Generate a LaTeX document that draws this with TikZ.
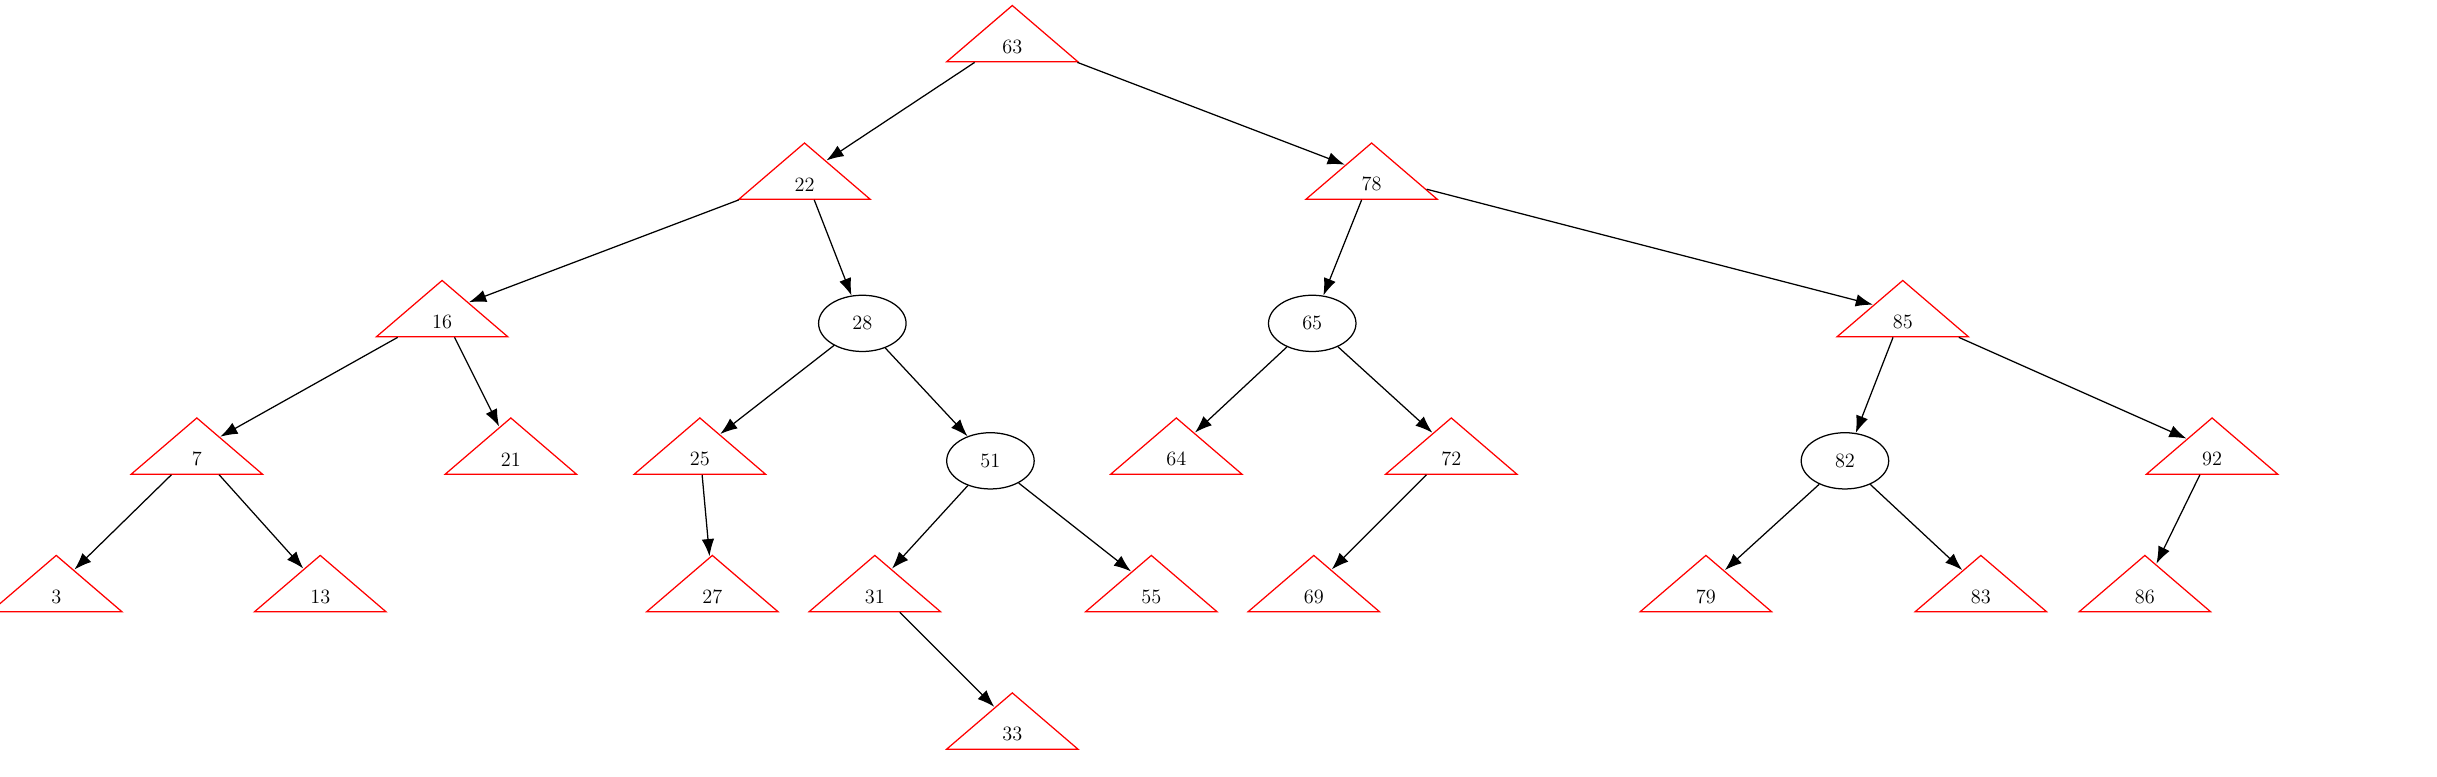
\documentclass[tikz,border=0pt]{standalone}
\usetikzlibrary{shapes.geometric,arrows.meta}
\begin{document}
\begin{tikzpicture}[x=1pt,y=-1pt,
  tri/.style={isosceles triangle, shape border rotate=90, isosceles triangle stretches,
    minimum width=84pt, minimum height=36pt, inner sep=0pt, draw=red, line width=0.8pt},
  ell/.style={ellipse, draw=black, minimum width=56pt, minimum height=36pt, inner sep=0pt, line width=0.8pt, font=\fontsize{13}{13}\selectfont},
  ed/.style={-{Latex[length=11pt,width=8pt]}, line width=0.8pt}]
\useasboundingbox (0,0) rectangle (1560,497);
\newcommand{\tn}[3]{\node[tri,label={[font=\fontsize{13}{13}\selectfont,yshift=-6pt]center:#3}] (#1) at #2 {};}
\tn{n63}{(648,24)}{63}
\tn{n22}{(515,112)}{22}
\tn{n78}{(878,112)}{78}
\tn{n16}{(283,200)}{16}
\node[ell] (n28) at (552,207) {28};
\node[ell] (n65) at (840,207) {65};
\tn{n85}{(1218,200)}{85}
\tn{n7}{(126,288)}{7}
\tn{n21}{(327,288)}{21}
\tn{n25}{(448,288)}{25}
\node[ell] (n51) at (634,295) {51};
\tn{n64}{(753,288)}{64}
\tn{n72}{(929,288)}{72}
\node[ell] (n82) at (1181,295) {82};
\tn{n92}{(1416,288)}{92}
\tn{n3}{(36,376)}{3}
\tn{n13}{(205,376)}{13}
\tn{n27}{(456,376)}{27}
\tn{n31}{(560,376)}{31}
\tn{n55}{(737,376)}{55}
\tn{n69}{(841,376)}{69}
\tn{n79}{(1092,376)}{79}
\tn{n83}{(1268,376)}{83}
\tn{n86}{(1373,376)}{86}
\tn{n33}{(648,464)}{33}
\foreach \a/\b in {n63/n22,n63/n78,n22/n16,n22/n28,n78/n65,n78/n85,n16/n7,n16/n21,
  n28/n25,n28/n51,n65/n64,n65/n72,n85/n82,n85/n92,n7/n3,n7/n13,n25/n27,n51/n31,n51/n55,
  n72/n69,n82/n79,n82/n83,n92/n86,n31/n33}
  \draw[ed] (\a) -- (\b);
\end{tikzpicture}
\end{document}
